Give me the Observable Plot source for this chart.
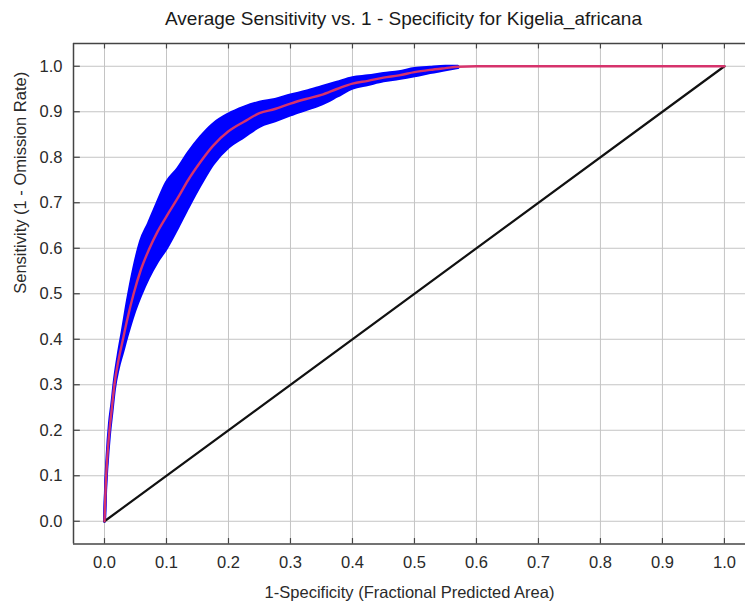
<!DOCTYPE html>
<html>
<head>
<meta charset="utf-8">
<script src="https://cdn.jsdelivr.net/npm/d3@7"></script>
<script src="https://cdn.jsdelivr.net/npm/@observablehq/plot@0.6"></script>
<style>
  html, body { margin: 0; padding: 0; background: #fff; overflow: hidden; }
  #chart svg { display: block; font-family: "Liberation Sans", Arial, sans-serif; }
</style>
</head>
<body>
<div id="chart"></div>
<script>
// ---- data ----
const title = "Average Sensitivity vs. 1 - Specificity for Kigelia_africana";
const xLabel = "1-Specificity (Fractional Predicted Area)";
const yLabel = "Sensitivity (1 - Omission Rate)";

const xTicks = [0, 0.1, 0.2, 0.3, 0.4, 0.5, 0.6, 0.7, 0.8, 0.9, 1.0];
const yTicks = [0, 0.1, 0.2, 0.3, 0.4, 0.5, 0.6, 0.7, 0.8, 0.9, 1.0];

// mean ROC curve (1-specificity, sensitivity)
const meanX = [0, 0.002, 0.004, 0.008, 0.012, 0.016, 0.022, 0.029, 0.037, 0.047, 0.058, 0.071, 0.085, 0.1, 0.118, 0.135, 0.155, 0.175, 0.2, 0.225, 0.25, 0.275, 0.3, 0.325, 0.35, 0.375, 0.4, 0.425, 0.45, 0.475, 0.5, 0.525, 0.55, 0.57, 0.6, 0.8, 1.0];
const meanY = [0, 0.08, 0.13, 0.2, 0.25, 0.3, 0.35, 0.395, 0.445, 0.5, 0.55, 0.595, 0.635, 0.67, 0.71, 0.75, 0.79, 0.825, 0.857, 0.878, 0.897, 0.906, 0.918, 0.928, 0.937, 0.95, 0.962, 0.968, 0.975, 0.98, 0.987, 0.992, 0.996, 0.999, 1.0, 1.0, 1.0];

// mean +/- one standard deviation band
const bandX  = [0, 0.002, 0.004, 0.008, 0.012, 0.016, 0.022, 0.029, 0.037, 0.047, 0.058, 0.071, 0.085, 0.1, 0.118, 0.135, 0.155, 0.175, 0.2, 0.225, 0.25, 0.275, 0.3, 0.325, 0.35, 0.375, 0.4, 0.425, 0.45, 0.475, 0.5, 0.525, 0.55, 0.57];
const bandLo = [0, 0.075, 0.12, 0.19, 0.24, 0.29, 0.335, 0.37, 0.41, 0.455, 0.495, 0.535, 0.57, 0.6, 0.645, 0.69, 0.74, 0.785, 0.822, 0.845, 0.868, 0.88, 0.893, 0.905, 0.917, 0.934, 0.952, 0.96, 0.968, 0.973, 0.979, 0.986, 0.992, 0.997];
const bandHi = [0, 0.085, 0.14, 0.215, 0.26, 0.31, 0.365, 0.42, 0.485, 0.555, 0.615, 0.655, 0.70, 0.745, 0.775, 0.81, 0.845, 0.873, 0.895, 0.91, 0.921, 0.927, 0.937, 0.945, 0.955, 0.965, 0.975, 0.979, 0.984, 0.988, 0.995, 0.998, 1.0, 1.0];

// random-prediction diagonal
const diagX = [0, 1];
const diagY = [0, 1];

// ---- build tables ----
const meanData = meanX.map((x, i) => ({x, y: meanY[i]}));
const bandData = bandX.map((x, i) => ({x, lo: bandLo[i], hi: bandHi[i]}));
const diagData = diagX.map((x, i) => ({x, y: diagY[i]}));

const xDomain = [-0.05, 1.034];
const yDomain = [-0.05, 1.05];
const tickLenX = 0.011;  // in x units
const tickLenY = 0.012;  // in y units
const textColor = "#2a2a2a";
const fmt = d => d.toFixed(1);

const chart = Plot.plot({
  width: 745,
  height: 605,
  marginTop: 43,
  marginBottom: 61.5,
  marginLeft: 73,
  marginRight: 0,
  style: {fontFamily: "'Liberation Sans', Arial, sans-serif", background: "#fff"},
  x: {domain: xDomain, axis: null},
  y: {domain: yDomain, axis: null},
  marks: [
    // grid
    Plot.ruleX(xTicks, {x: d => d, stroke: "#c4c4c4", strokeWidth: 1}),
    Plot.ruleY(yTicks, {y: d => d, stroke: "#c4c4c4", strokeWidth: 1}),
    // std band
    Plot.areaY(bandData, {x: "x", y1: "lo", y2: "hi", fill: "#0000ff", curve: "monotone-x"}),
    Plot.line(bandData, {x: "x", y: "lo", stroke: "#0000ff", strokeWidth: 3, strokeLinejoin: "round", curve: "monotone-x"}),
    Plot.line(bandData, {x: "x", y: "hi", stroke: "#0000ff", strokeWidth: 3, strokeLinejoin: "round", curve: "monotone-x"}),
    // diagonal
    Plot.line(diagData, {x: "x", y: "y", stroke: "#111", strokeWidth: 2.2}),
    // mean curve
    Plot.line(meanData, {x: "x", y: "y", stroke: "#d6336c", strokeWidth: 2.4, curve: "monotone-x"}),
    // frame (left, top, bottom)
    Plot.ruleY([yDomain[0], yDomain[1]], {y: d => d, stroke: "#444", strokeWidth: 1.5}),
    Plot.ruleX([xDomain[0]], {x: d => d, stroke: "#444", strokeWidth: 1.5}),
    // inward ticks
    Plot.ruleX(xTicks, {x: d => d, y1: yDomain[0], y2: yDomain[0] + tickLenY, stroke: "#444", strokeWidth: 1.2}),
    Plot.ruleX(xTicks, {x: d => d, y1: yDomain[1], y2: yDomain[1] - tickLenY, stroke: "#444", strokeWidth: 1.2}),
    Plot.ruleY(yTicks, {y: d => d, x1: xDomain[0], x2: xDomain[0] + tickLenX, stroke: "#444", strokeWidth: 1.2}),
    // tick labels
    Plot.text(xTicks, {x: d => d, frameAnchor: "bottom", dy: 19, text: fmt, fontSize: 16.5, fill: textColor, lineAnchor: "middle"}),
    Plot.text(yTicks, {y: d => d, frameAnchor: "left", dx: -11, textAnchor: "end", text: fmt, fontSize: 16.5, fill: textColor}),
    // axis titles
    Plot.text([xLabel], {frameAnchor: "bottom", dy: 49, text: d => d, fontSize: 16.5, fill: textColor, lineAnchor: "middle"}),
    Plot.text([yLabel], {frameAnchor: "left", dx: -53, rotate: -90, text: d => d, fontSize: 16.5, fill: textColor}),
    // title
    Plot.text([title], {frameAnchor: "top", dy: -25, dx: -6, text: d => d, fontSize: 19, fill: "#1a1a1a", lineAnchor: "middle"})
  ]
});

document.getElementById("chart").appendChild(chart);
</script>
</body>
</html>
